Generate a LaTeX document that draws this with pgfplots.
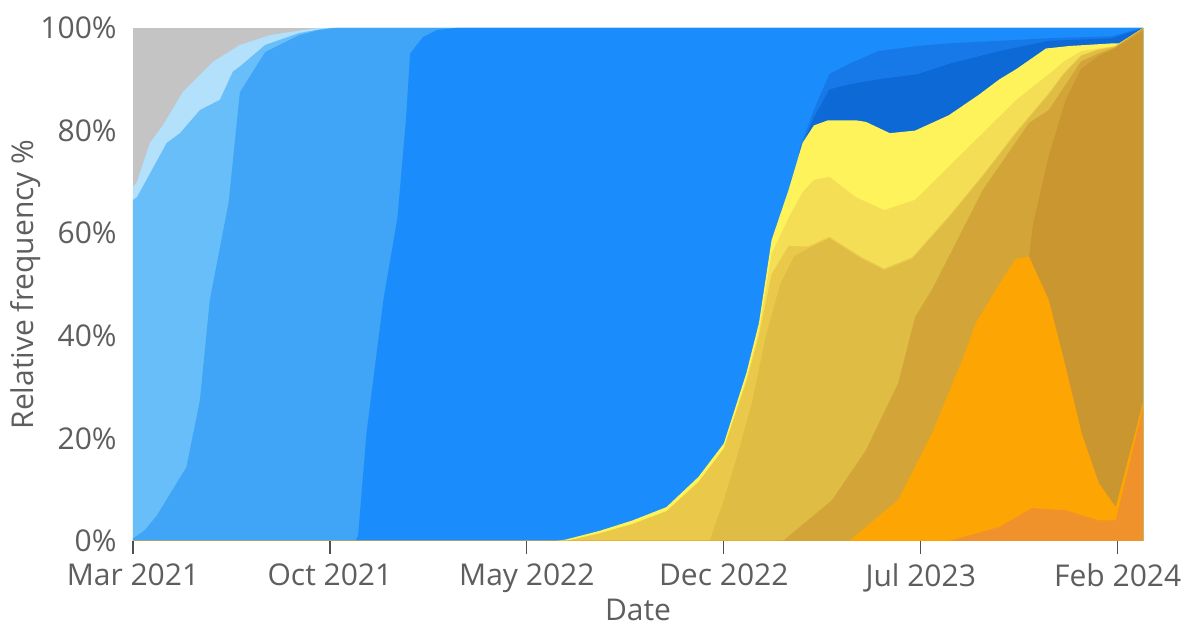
\documentclass[border=0pt]{standalone}
\usepackage{fontspec}
\setmainfont{Open Sans}
\usepackage{pgfplots}
\pgfplotsset{compat=1.18}
\definecolor{cgray}{HTML}{C4C4C4}
\definecolor{cvlb}{HTML}{B3E0FB}
\definecolor{clb}{HTML}{68BEF9}
\definecolor{cmb}{HTML}{40A4F7}
\definecolor{cbb}{HTML}{1A8CFB}
\definecolor{cdb}{HTML}{1779E8}
\definecolor{cddb}{HTML}{0C69D6}
\definecolor{cby}{HTML}{FFF35C}
\definecolor{cpy}{HTML}{F3DE55}
\definecolor{cey}{HTML}{EAC84A}
\definecolor{cmg}{HTML}{DFBD45}
\definecolor{cgo}{HTML}{D3A539}
\definecolor{cdg}{HTML}{C9962F}
\definecolor{cor}{HTML}{FDA502}
\definecolor{cdo}{HTML}{F0922C}
\definecolor{textgray}{HTML}{5E5E5E}
\definecolor{tickgray}{HTML}{505050}
\begin{document}
\begin{tikzpicture}
\begin{axis}[
  scale only axis, width=505pt, height=256.5pt,
  xmin=0, xmax=35.9, ymin=0, ymax=100,
  axis line style={draw=none},
  xtick={0,7,14,21,28,35},
  xticklabels={Mar 2021,Oct 2021,May 2022,Dec 2022,Jul 2023,Feb 2024},
  ytick={0,20,40,60,80,100},
  yticklabels={0\%,20\%,40\%,60\%,80\%,100\%},
  xtick pos=bottom, ytick pos=left,
  tick align=outside,
  major tick length=6.5pt,
  x tick style={draw=tickgray, line width=0.6pt},
  y tick style={draw=none},
  tick label style={font=\fontsize{15}{18}\selectfont, text=textgray},
  xticklabel style={inner sep=0pt, yshift=-4.5pt},
  yticklabel style={inner sep=0pt, xshift=-1.5pt},
  xlabel={Date}, ylabel={Relative frequency \%},
  label style={font=\fontsize{15}{18}\selectfont, text=textgray},
  xlabel style={at={(axis description cs:0.5,-0.1125)}, anchor=north, inner sep=0pt},
  ylabel style={at={(axis description cs:-0.1059,0.5)}, anchor=center, inner sep=0pt},
]
% gray (other) on top
\addplot[fill=cgray, draw=none] coordinates {(0,100) (35.9,100)} \closedcycle;
% very light blue
\addplot[fill=cvlb, draw=none] coordinates {(0,69) (0.14,70) (0.6,77.6) (1.06,81) (1.77,87.5) (2.84,93.4) (3.8,96.7) (4.86,98.6) (6.03,99.6) (6.6,100) (35.9,100)} \closedcycle;
% light blue
\addplot[fill=clb, draw=none] coordinates {(0,66.5) (0.14,67) (1.2,77.6) (1.67,79.5) (2.38,84) (3.09,86) (3.55,91.5) (3.8,92.5) (4.7,96.7) (5.9,99) (6.6,99.7) (7,100) (35.9,100)} \closedcycle;
% medium blue
\addplot[fill=cmb, draw=none] coordinates {(0,0.5) (0.4,2) (0.85,5) (1.9,14.4) (2.38,27.5) (2.73,47) (3.4,66) (3.8,87.5) (4.7,95.3) (5.9,98.6) (6.6,99.6) (7.2,100) (35.9,100)} \closedcycle;
% bright blue
\addplot[fill=cbb, draw=none] coordinates {(0,0) (7.9,0) (8.0,1) (8.3,21) (8.9,47) (9.4,63) (9.7,82) (9.85,95) (10.3,98.2) (10.8,99.6) (11.5,100) (35.9,100)} \closedcycle;
% dark blue
\addplot[fill=cdb, draw=none] coordinates {(0,0) (23.5,0) (23.7,76.5) (24.2,84) (24.75,91) (25.45,93) (26.5,95.5) (27.9,96.5) (29,97) (30.8,97.5) (32.55,98) (34.8,98.4) (35.9,100)} \closedcycle;
% deep dark blue
\addplot[fill=cddb, draw=none] coordinates {(0,0) (23.5,0) (23.7,76) (24.2,82.5) (24.75,88) (25.45,89) (26.5,90) (27.9,91) (29,93) (30.8,95.5) (32.55,97.5) (34.8,98) (35.9,100)} \closedcycle;
% bright yellow
\addplot[fill=cby, draw=none] coordinates {(0,0) (15,0) (15.4,0.3) (16.6,2) (17.75,4) (18.96,6.6) (20.1,12.5) (21,19) (21.8,32.7) (22.25,42.5) (22.7,58.7) (23.3,68.4) (23.8,77.6) (24.2,81) (24.7,82) (25.7,82) (26.05,81.7) (26.9,79.5) (27.8,80) (29,83) (30.07,87) (30.8,90) (31.4,92) (32.45,96) (33.3,96.5) (34.8,97) (35.1,97) (35.9,100)} \closedcycle;
% pale yellow
\addplot[fill=cpy, draw=none] coordinates {(0,0) (15.4,0) (16.6,1.5) (17.75,3.3) (18.96,5.8) (20.1,11.5) (21,18) (21.8,31.5) (22.25,41) (22.7,56) (23.3,63) (23.8,68) (24.2,70.4) (24.75,71) (25.7,67) (26.7,64.5) (27.8,66.5) (29,73) (30.2,79.5) (31.4,86) (32.55,91) (33.1,93.5) (33.7,95.5) (34.3,96) (34.9,96.5) (35.9,100)} \closedcycle;
% early yellow
\addplot[fill=cey, draw=none] coordinates {(0,0) (15.4,0) (16.6,1.5) (17.75,3.3) (18.96,5.8) (20.1,11.5) (21,18) (21.8,31) (22.25,40) (22.7,52) (23.3,57.5) (24,57.4) (24.75,59.3) (25.9,55.3) (26.7,53.1) (27.7,55.3) (29,63.3) (30.2,71.3) (31.4,79.8) (32.55,87.3) (33.1,91.3) (33.7,94.7) (34.3,95.8) (34.9,96.4) (35.9,100)} \closedcycle;
% mid gold
\addplot[fill=cmg, draw=none] coordinates {(0,0) (20.5,0) (21,8) (21.5,17) (22,27) (22.5,40) (23,50) (23.5,55.5) (24,57) (24.75,59) (25.9,55) (26.7,52.8) (27.7,55) (29,63) (30.2,71) (31.4,79.5) (32.55,87) (33.1,91) (33.7,94.5) (34.3,95.7) (34.9,96.3) (35.9,100)} \closedcycle;
% gold
\addplot[fill=cgo, draw=none] coordinates {(0,0) (23.1,0) (24.85,8) (26.05,17.7) (27.2,30.8) (27.8,43.7) (28.4,49) (30.2,68.4) (31.85,81.5) (32.55,84) (33.15,89) (33.7,93.5) (34.3,95) (34.9,96.2) (35.9,100)} \closedcycle;
% dark gold
\addplot[fill=cdg, draw=none] coordinates {(0,0) (31.7,0) (31.85,55.4) (32.0,62) (32.55,75) (33.15,86) (33.7,92) (34.3,94.5) (34.9,96) (35.9,99.5)} \closedcycle;
% orange
\addplot[fill=cor, draw=none] coordinates {(0,0) (25.45,0) (27.2,8) (28.4,21) (29.6,37) (29.96,42.5) (30.78,50) (31.38,55) (31.85,55.4) (32.55,47) (33.15,34) (33.72,21) (34.33,11.3) (34.93,6.6) (35.9,27)} \closedcycle;
% dark orange
\addplot[fill=cdo, draw=none] coordinates {(0,0) (29,0) (30.78,2.7) (31.95,6.4) (33.15,6) (34.33,4) (34.93,4) (35.9,26)} \closedcycle;
\end{axis}
\pgfresetboundingbox
\path ([shift={(-66.5pt,-42.5pt)}]current axis.south west) rectangle ([shift={(22pt,14pt)}]current axis.north east);
\end{tikzpicture}
\end{document}
